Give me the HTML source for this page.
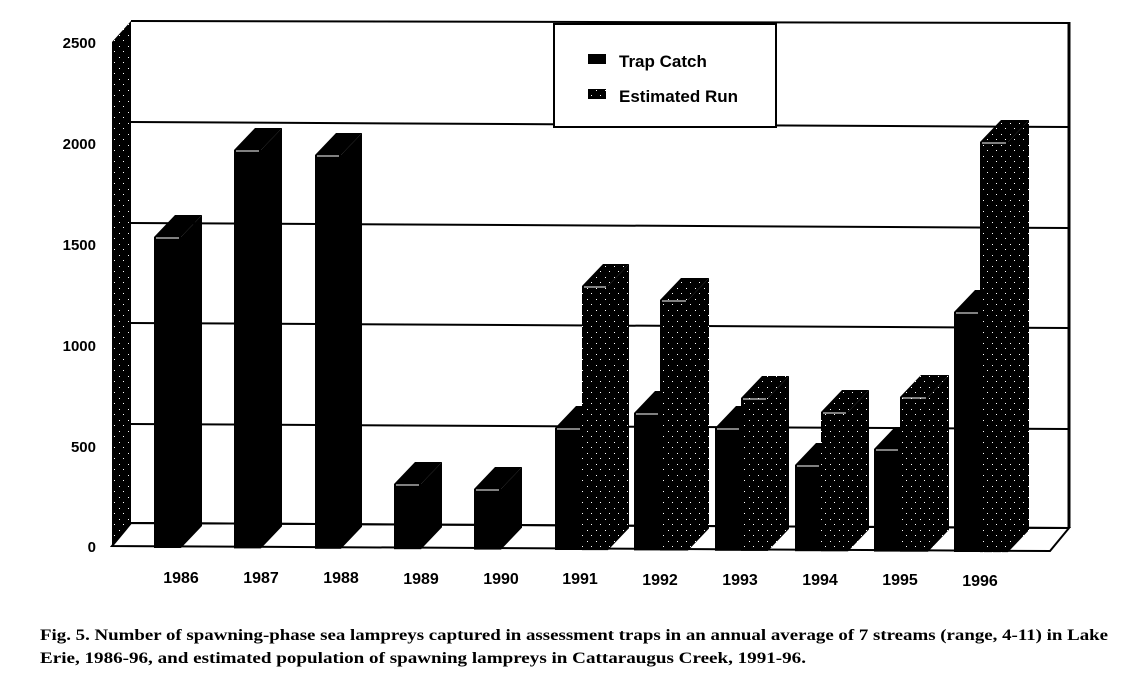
<!DOCTYPE html>
<html><head><meta charset="utf-8"><style>
html,body{margin:0;padding:0;background:#fff;}
svg{display:block;}
.yl{font-family:"Liberation Sans",sans-serif;font-weight:bold;font-size:15px;}
.xl{font-family:"Liberation Sans",sans-serif;font-weight:bold;font-size:16px;}
.cap{font-family:"Liberation Serif",serif;font-weight:bold;font-size:16px;}
.lg{font-family:"Liberation Sans",sans-serif;font-size:17px;font-weight:bold;}
</style></head><body>
<svg id="s" width="1129" height="692" viewBox="0 0 1129 692" xmlns="http://www.w3.org/2000/svg">
<defs>
<pattern id="dots" width="9" height="11" patternUnits="userSpaceOnUse">
<rect width="9" height="11" fill="#000"/>
<rect x="2" y="2" width="1" height="1" fill="#fff"/>
<rect x="6" y="7" width="1" height="1" fill="#fff"/>
</pattern>
</defs>
<polygon points="131,523 1069,528 1050,551 112,546" fill="#fff" stroke="#000" stroke-width="2"/>
<polygon points="112,42 131,21 131,523 112,546" fill="url(#dots)"/>
<g stroke="#000" stroke-width="2">
<line x1="131" y1="21" x2="1069" y2="23"/>
<line x1="131" y1="122" x2="1069" y2="127"/>
<line x1="131" y1="223" x2="1069" y2="228"/>
<line x1="131" y1="323" x2="1069" y2="328"/>
<line x1="131" y1="424" x2="1069" y2="429"/>
<line x1="131" y1="523" x2="1069" y2="528"/>
<line x1="1069" y1="22" x2="1069" y2="528" stroke-width="3"/>
</g>
<g id="bars"></g>
<rect x="554" y="24" width="222" height="103" fill="#fff" stroke="#000" stroke-width="2"/>
<rect x="588" y="54" width="18" height="10" fill="#000"/>
<text class="lg" x="619" y="67">Trap Catch</text>
<rect x="588" y="89" width="18" height="10" fill="url(#dots)"/>
<text class="lg" x="619" y="102">Estimated Run</text>
<g class="yl" text-anchor="end">
<text x="96" y="48">2500</text>
<text x="96" y="149">2000</text>
<text x="96" y="250">1500</text>
<text x="96" y="351">1000</text>
<text x="96" y="452">500</text>
<text x="96" y="552">0</text>
</g>
<g class="xl" text-anchor="middle">
<text x="181" y="583">1986</text>
<text x="261" y="583">1987</text>
<text x="341" y="583">1988</text>
<text x="421" y="584">1989</text>
<text x="501" y="584">1990</text>
<text x="580" y="584">1991</text>
<text x="660" y="585">1992</text>
<text x="740" y="585">1993</text>
<text x="820" y="585">1994</text>
<text x="900" y="585">1995</text>
<text x="980" y="586">1996</text>
</g>
<text class="cap" x="40" y="640" textLength="1068" lengthAdjust="spacingAndGlyphs">Fig. 5.  Number of spawning-phase sea lampreys captured in assessment traps in an annual average of 7 streams (range, 4-11) in Lake</text>
<text class="cap" x="40" y="663" textLength="766" lengthAdjust="spacingAndGlyphs">Erie, 1986-96, and estimated population of spawning lampreys in Cattaraugus Creek, 1991-96.</text>
</svg>
<script>
var bars=[[154,181,237,0],[234,261,150,0],[315,341,155,0],[394,421,484,0],[474,501,489,0],
[555,582,428,0],[582,608,286,1],[634,660,413,0],[660,688,300,1],[715,741,428,0],[741,768,398,1],
[795,821,465,0],[821,848,412,1],[874,900,449,0],[900,928,397,1],[954,980,312,0],[980,1008,142,1]];
var g=document.getElementById('bars'),h='';
var dx=21,dy=-22;
bars.forEach(function(b){
var x1=b[0],x2=b[1],t=b[2],bot=548+(x1-154)*0.005,f=b[3]?'url(#dots)':'#000';
h+='<polygon points="'+x2+','+t+' '+(x2+dx)+','+(t+dy)+' '+(x2+dx)+','+(bot+dy)+' '+x2+','+bot+'" fill="'+f+'"/>';
h+='<polygon points="'+x1+','+t+' '+(x1+dx)+','+(t+dy)+' '+(x2+dx)+','+(t+dy)+' '+x2+','+t+'" fill="'+f+'"/>';
h+='<rect x="'+x1+'" y="'+t+'" width="'+(x2-x1)+'" height="'+(bot-t)+'" fill="'+f+'"/>';
h+='<line x1="'+(x1+2)+'" y1="'+(t+1)+'" x2="'+(x2-2)+'" y2="'+(t+1)+'" stroke="#fff" stroke-width="1"/>';
});
g.innerHTML=h;
</script>
</body></html>
